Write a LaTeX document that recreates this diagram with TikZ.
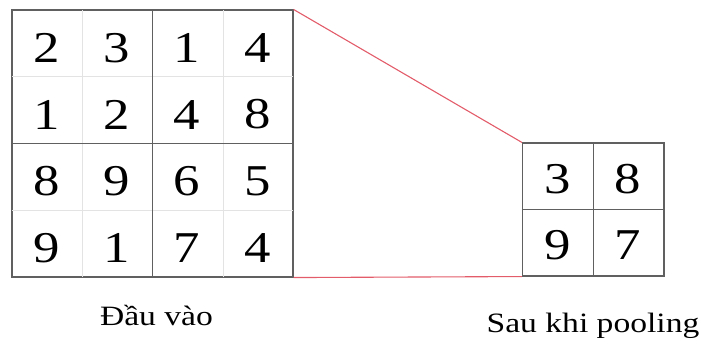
\documentclass[tikz,border=0pt]{standalone}
\usepackage{fontspec}
\setmainfont{Liberation Serif}[FakeStretch=1.2]
\usetikzlibrary{positioning,calc}
\definecolor{linkred}{RGB}{226,92,106}
\tikzset{
  gridbox/.style={draw=gray!75!black, line width=1.1pt, inner sep=0pt},
  thinln/.style={gray!22, line width=0.8pt},
  blockln/.style={gray!75!black, line width=1.1pt},
  cellnum/.style={font=\fontsize{44}{44}\selectfont, inner sep=0pt},
  labeltxt/.style={font=\fontsize{28}{28}\selectfont, anchor=base},
  linkln/.style={linkred, line width=1.1pt},
}
\begin{document}
\begin{tikzpicture}[x=1pt,y=1pt]
  \useasboundingbox (0,0) rectangle (701,343);
  % input 4x4, split in 2x2 pooling blocks
  \node[gridbox, minimum width=281pt, minimum height=267pt] (input) at (152.5,199.5) {};
  \foreach \k in {1,3} {
    \draw[thinln] ($(input.north west)!\k/4!(input.north east)+(0,-0.6)$)
      -- ($(input.south west)!\k/4!(input.south east)+(0,0.6)$);
    \draw[thinln] ($(input.north west)!\k/4!(input.south west)+(0.6,0)$)
      -- ($(input.north east)!\k/4!(input.south east)+(-0.6,0)$);
  }
  \draw[blockln] (input.north) -- (input.south);
  \draw[blockln] (input.west) -- (input.east);
  \foreach \rowvals [count=\i] in {{2,3,1,4},{1,2,4,8},{8,9,6,5},{9,1,7,4}}
    \foreach \v [count=\j] in \rowvals
      \node[cellnum] (in-\i-\j) at ($(input.north west)+({(\j-0.5)*70.25},{-(\i-0.5)*66.75-5})$) {\v};
  % result of max pooling
  \node[gridbox, minimum width=141.5pt, minimum height=133pt] (pooled) at (593.25,133.5) {};
  \draw[blockln] (pooled.north) -- (pooled.south);
  \draw[blockln] (pooled.west) -- (pooled.east);
  \foreach \rowvals [count=\i] in {{3,8},{9,7}}
    \foreach \v [count=\j] in \rowvals
      \node[cellnum] (out-\i-\j) at ($(pooled.north west)+({(\j-0.5)*70.75},{-(\i-0.5)*66.5-3})$) {\v};
  \draw[linkln] (input.north east) -- (pooled.north west);
  \draw[linkln] (input.south east) -- (pooled.south west);
  \node[labeltxt] (inlabel) at (156.5,18) {Đầu vào};
  \node[labeltxt] (outlabel) at (593,11) {Sau khi pooling};
\end{tikzpicture}
\end{document}
